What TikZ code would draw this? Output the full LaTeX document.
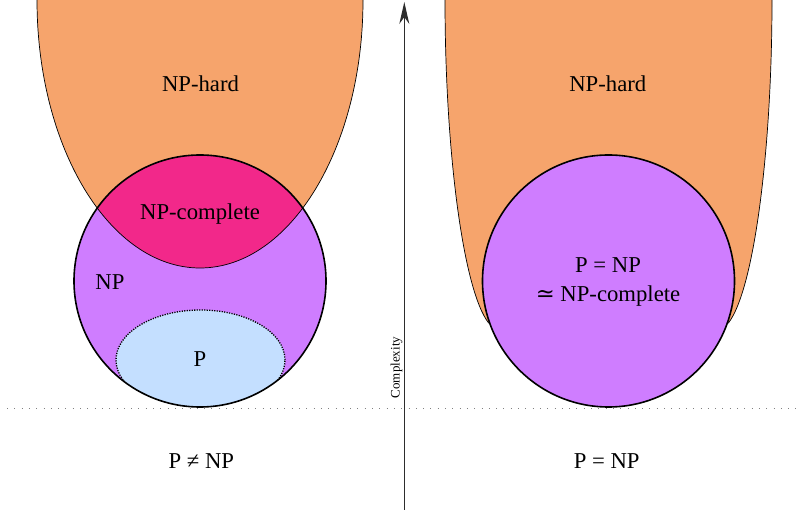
\documentclass[tikz,border=0pt]{standalone}
\usepackage{fontspec}
\setmainfont{Liberation Serif}
\newfontfamily\dvserif{DejaVu Serif}
\usetikzlibrary{arrows.meta}
\definecolor{hardc}{RGB}{246,164,108}
\definecolor{compc}{RGB}{242,40,138}
\definecolor{npc}{RGB}{207,125,255}
\definecolor{pc}{RGB}{196,223,255}
\definecolor{axisc}{RGB}{45,45,45}
\begin{document}
\begin{tikzpicture}[x=1pt,y=1pt,
  lbl/.style={font=\fontsize{22.7}{29}\selectfont, inner sep=0pt, text=black},
  thinline/.style={line width=0.7pt, draw=black},
  setline/.style={line width=1.6pt, draw=black},
  guide/.style={draw=gray, line width=0.9pt, dash pattern=on 0.9pt off 6.4pt}]
\useasboundingbox (0,0) rectangle (802,510);
\clip (0,0) rectangle (802,510);

% guide line
\coordinate (gl) at (7,102);
\coordinate (gr) at (802,102);
\draw[guide] (gl) -- (gr);

% ---------- left: P != NP ----------
\filldraw[fill=hardc, thinline] (37,520) -- (37,510) arc[start angle=180, end angle=360, x radius=163, y radius=268] -- (363,520) -- cycle;
\fill[npc] (200,229) circle[radius=126];
\begin{scope}
  \clip (200,229) circle[radius=126];
  \filldraw[fill=compc, thinline] (37,520) -- (37,510) arc[start angle=180, end angle=360, x radius=163, y radius=268] -- (363,520) -- cycle;
  \fill[pc] (200.5,150) ellipse[x radius=84.5, y radius=50];
  \draw[line width=1.3pt, dash pattern=on 1.2pt off 1.3pt] (200.5,150) ellipse[x radius=84.5, y radius=50];
\end{scope}
\draw[setline] (200,229) circle[radius=126];

\node[lbl, anchor=base] (hardL) at (200.5,418.3) {NP-hard};
\node[lbl, anchor=base] (comp) at (200,290) {NP-complete};
\node[lbl, anchor=base] (np) at (110,220) {NP};
\node[lbl, anchor=base] (p) at (200,143.3) {P};
\node[lbl, anchor=base] (neq) at (201.3,41.7) {P ≠ NP};

% ---------- right: P = NP ----------
\filldraw[fill=hardc, thinline] (445,520) -- (445,510) .. controls (445,360) and (463,220) .. (488.6,187) -- (608.5,200) -- (728.4,187) .. controls (754,220) and (772,360) .. (772,510) -- (772,520) -- cycle;
\filldraw[fill=npc, setline] (608.5,229) circle[radius=126];

\node[lbl, anchor=base] (hardR) at (607.8,418.3) {NP-hard};
\node[lbl, align=center] (eqc) at (608,227.9) {P = NP\\{\dvserif ≃} NP-complete};
\node[lbl, anchor=base] (eq) at (606.7,41.7) {P = NP};

% ---------- axis ----------
\coordinate (axbot) at (404.3,-2);
\coordinate (axtop) at (404.3,508);
\draw[axisc, line width=1.2pt, -{Stealth[length=22pt, width=10pt, inset=7pt]}] (axbot) -- (axtop);
\node[font=\fontsize{13}{15}\selectfont, rotate=90, inner sep=0pt] (cx) at (396.5,142.5) {Complexity};
\end{tikzpicture}
\end{document}
